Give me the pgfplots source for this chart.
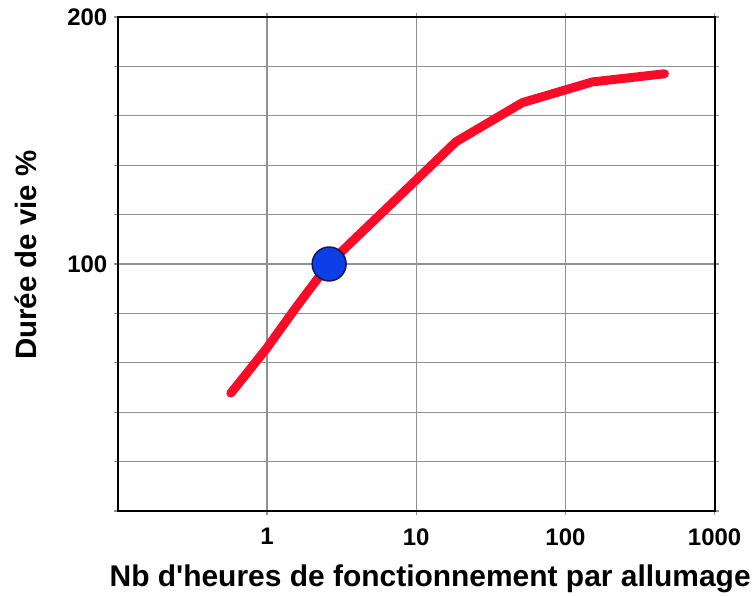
\documentclass[border=0pt]{standalone}
\usepackage{pgfplots}
\pgfplotsset{compat=1.18}
\usepackage{fontspec}
\setmainfont{Liberation Sans}
\definecolor{curvered}{RGB}{250,12,40}
\definecolor{dotblue}{RGB}{12,64,230}
\definecolor{dotedge}{RGB}{20,24,80}
\definecolor{gridgray}{RGB}{145,145,145}

\begin{document}
\begin{tikzpicture}
\begin{axis}[
  scale only axis,
  width=598pt, height=495pt,
  xmode=log, xmin=0.1, xmax=1000,
  ymin=0, ymax=200,
  xtick={1,10,100,1000},
  xticklabels={1,10,100,1000},
  xminorticks=false,
  ytick={0,20,...,200},
  yticklabels={,,,,,100,,,,,200},
  grid=major,
  major grid style={gridgray, line width=1.2pt},
  axis line style={black, line width=1.8pt},
  tick align=outside,
  major tick length=4pt,
  tick style={gridgray, line width=1.2pt},
  ticklabel style={font=\bfseries\fontsize{24}{24}\selectfont},
  xticklabel style={yshift=-10pt},
  yticklabel style={xshift=-3pt},
  xlabel={Nb d\textquotesingle heures de fonctionnement par allumage},
  ylabel={Durée de vie \%},
  label style={font=\bfseries\fontsize{30}{30}\selectfont},
  xlabel style={xshift=14pt, yshift=-12pt},
  ylabel style={font=\bfseries\fontsize{29.5}{29.5}\selectfont, yshift=24pt, xshift=9pt},
  clip=false,
]
\addplot[curvered, line width=9pt, line cap=round, line join=round] coordinates {
  (0.573,47.7) (0.985,65.5) (1.565,82.4) (2.61,100.2) (10,134)
  (18.5,149.5) (51.4,165.3) (151.7,173.7) (461,177)
};
\addplot[only marks, mark=*, mark size=17pt,
  mark options={fill=dotblue, draw=dotedge, line width=1.5pt}]
  coordinates {(2.61,100)};
\end{axis}
\path (current axis.south west) ++(-118pt,-78pt);
\path (current axis.north east) ++(38pt,17pt);
\end{tikzpicture}
\end{document}
